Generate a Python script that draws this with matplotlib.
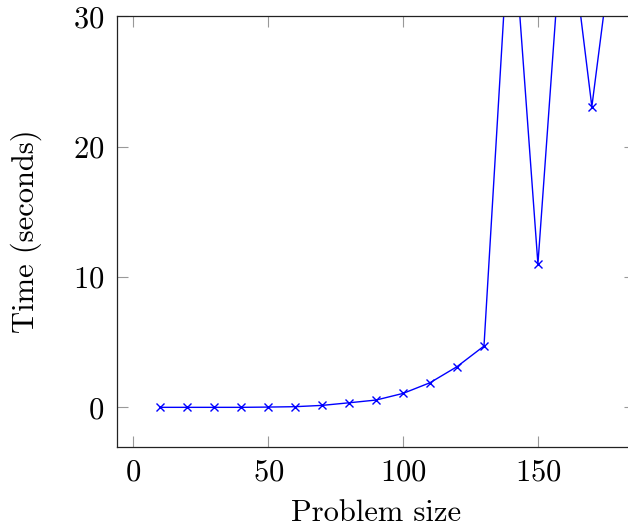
import matplotlib
matplotlib.use("Agg")
import matplotlib.pyplot as plt

problem_size = [10, 20, 30, 40, 50, 60, 70, 80, 90, 100, 110, 120, 130, 140, 150, 160, 170, 180]
time_seconds = [0.0, 0.0, 0.0, 0.0, 0.02, 0.05, 0.15, 0.35, 0.56, 1.07, 1.89, 3.12, 4.70, 39.4, 11.0, 39.9, 23.07, 39.2]
x_ticks = [0, 50, 100, 150]
y_ticks = [0, 10, 20, 30]

plt.rcParams['font.family'] = 'cmr10'
plt.rcParams['mathtext.fontset'] = 'cm'
plt.rcParams['axes.formatter.use_mathtext'] = True

fig = plt.figure(figsize=(6.28, 5.28), dpi=100)
ax = fig.add_axes([116.7 / 628, (528 - 446.7) / 528, (635 - 116.7) / 628, (446.7 - 16.3) / 528])

ax.plot(problem_size, time_seconds, color='#0000ff', lw=1.0, marker='x', ms=6, mew=1.0)

ax.set_xlim(-6.2, 186)
ax.set_ylim(-3.02, 30)
ax.set_xticks(x_ticks)
ax.set_yticks(y_ticks)
ax.tick_params(direction='in', length=8, width=0.8, color='#999999', top=True, right=True,
               labelsize=22, pad=9, labelcolor='black')
for s in ax.spines.values():
    s.set_linewidth(0.9)
    s.set_color('#222222')

ax.set_xlabel('Problem size', fontsize=22, labelpad=9)
ax.set_ylabel('Time (seconds)', fontsize=22, labelpad=22)

fig.savefig('out.png', dpi=100)
